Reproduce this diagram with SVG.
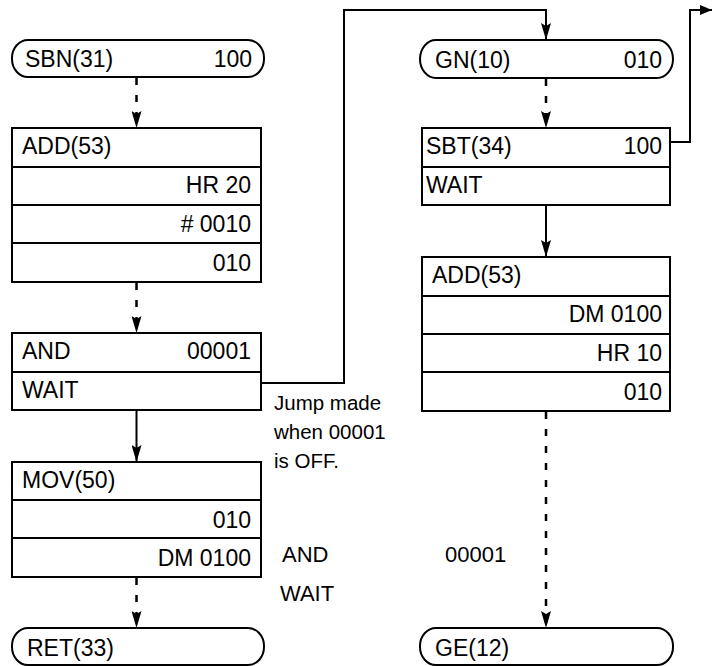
<svg xmlns="http://www.w3.org/2000/svg" width="713" height="666" viewBox="0 0 713 666">
<style>
  .box { fill: #fff; stroke: #000; stroke-width: 2; }
  .div { stroke: #000; stroke-width: 2; }
  text { font-family: "Liberation Sans", Arial, sans-serif; font-size: 23px; fill: #000; }
  .r { text-anchor: end; }
  .lbl { font-size: 22px; }
  .note { font-size: 20.5px; }
  .solid { fill: none; stroke: #000; stroke-width: 2; }
  .dash { fill: none; stroke: #000; stroke-width: 2.5; stroke-dasharray: 7 10; }
</style>
<defs>
  <marker id="ah" viewBox="0 0 17 10" refX="17" refY="5" markerWidth="17" markerHeight="10" markerUnits="userSpaceOnUse" orient="auto">
    <path d="M0,0 L17,5 L0,10 L3,5 z" fill="#000"/>
  </marker>
  <marker id="ahs" viewBox="0 0 12 10" refX="12" refY="5" markerWidth="12" markerHeight="10" markerUnits="userSpaceOnUse" orient="auto">
    <path d="M0,0 L12,5 L0,10 z" fill="#000"/>
  </marker>
</defs>

<g id="connectors">
  <line class="dash" x1="136.5" y1="78" x2="136.5" y2="128" marker-end="url(#ah)"/>
  <line class="dash" x1="136.5" y1="283" x2="136.5" y2="333" marker-end="url(#ah)"/>
  <line class="solid" x1="136.5" y1="411" x2="136.5" y2="462" marker-end="url(#ah)"/>
  <line class="dash" x1="136.5" y1="578" x2="136.5" y2="628" marker-end="url(#ah)"/>
  <polyline class="solid" points="261,383 344,383 344,10 546,10 546,40" marker-end="url(#ah)"/>
  <line class="dash" x1="546" y1="79" x2="546" y2="128" marker-end="url(#ah)"/>
  <line class="solid" x1="546" y1="206" x2="546" y2="257" marker-end="url(#ah)"/>
  <line class="dash" x1="546" y1="412" x2="546" y2="628" marker-end="url(#ah)"/>
  <polyline class="solid" points="670,142 690,142 690,10 712,10" marker-end="url(#ahs)"/>
</g>

<g id="sbn">
  <rect class="box" x="12" y="40" width="252" height="37" rx="16" ry="18"/>
  <text x="25" y="67">SBN(31)</text>
  <text class="r" x="252" y="67">100</text>
</g>

<g id="add1">
  <rect class="box" x="12" y="128" width="249" height="154"/>
  <line class="div" x1="12" y1="167" x2="261" y2="167"/>
  <line class="div" x1="12" y1="205" x2="261" y2="205"/>
  <line class="div" x1="12" y1="243" x2="261" y2="243"/>
  <text x="22" y="154">ADD(53)</text>
  <text class="r" x="251" y="193">HR 20</text>
  <text class="r" x="251" y="232">#&#160;0010</text>
  <text class="r" x="251" y="271">010</text>
</g>

<g id="and">
  <rect class="box" x="12" y="333" width="249" height="77"/>
  <line class="div" x1="12" y1="372" x2="261" y2="372"/>
  <text x="22" y="359">AND</text>
  <text class="r" x="251" y="359">00001</text>
  <text x="22" y="398">WAIT</text>
</g>

<g id="mov">
  <rect class="box" x="12" y="462" width="249" height="115"/>
  <line class="div" x1="12" y1="500" x2="261" y2="500"/>
  <line class="div" x1="12" y1="538" x2="261" y2="538"/>
  <text x="22" y="488">MOV(50)</text>
  <text class="r" x="251" y="528">010</text>
  <text class="r" x="251" y="566">DM 0100</text>
</g>

<g id="ret">
  <rect class="box" x="12" y="628" width="252" height="37" rx="16" ry="18"/>
  <text x="27" y="656">RET(33)</text>
</g>

<g id="gn">
  <rect class="box" x="420" y="40" width="253" height="38" rx="16" ry="19"/>
  <text x="435" y="68">GN(10)</text>
  <text class="r" x="662" y="68">010</text>
</g>

<g id="sbt">
  <rect class="box" x="422" y="128" width="248" height="77"/>
  <line class="div" x1="422" y1="167" x2="670" y2="167"/>
  <text x="426" y="154">SBT(34)</text>
  <text class="r" x="662" y="154">100</text>
  <text x="426" y="193">WAIT</text>
</g>

<g id="add2">
  <rect class="box" x="422" y="257" width="248" height="154"/>
  <line class="div" x1="422" y1="296" x2="670" y2="296"/>
  <line class="div" x1="422" y1="334" x2="670" y2="334"/>
  <line class="div" x1="422" y1="372" x2="670" y2="372"/>
  <text x="432" y="283">ADD(53)</text>
  <text class="r" x="662" y="322">DM 0100</text>
  <text class="r" x="662" y="361">HR 10</text>
  <text class="r" x="662" y="400">010</text>
</g>

<g id="ge">
  <rect class="box" x="420" y="628" width="253" height="37" rx="16" ry="18"/>
  <text x="435" y="656">GE(12)</text>
</g>

<g id="labels">
  <text class="note" x="274" y="410">Jump made</text>
  <text class="note" x="274" y="439">when 00001</text>
  <text class="note" x="274" y="468">is OFF.</text>
  <text class="lbl" x="282" y="562">AND</text>
  <text class="lbl" x="280" y="601">WAIT</text>
  <text class="lbl" x="445" y="562">00001</text>
</g>
</svg>
